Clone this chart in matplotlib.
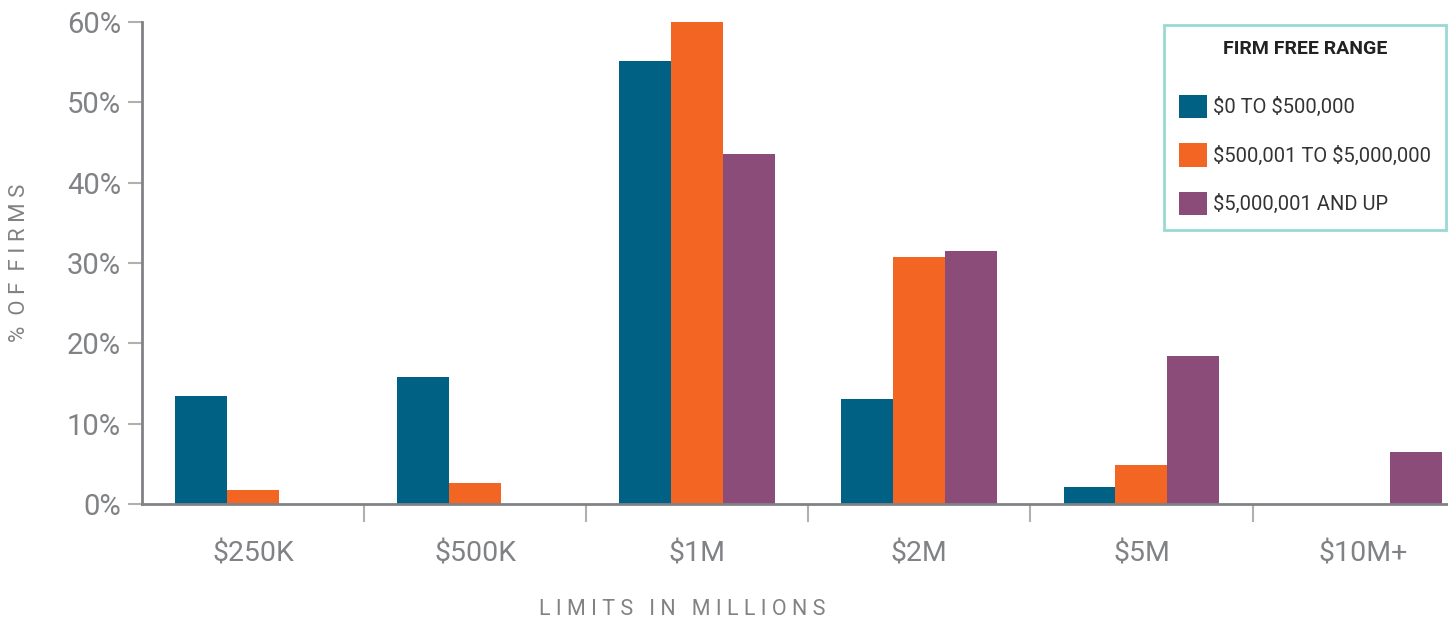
import numpy as np
import matplotlib.pyplot as plt

# limits of coverage and share of firms (%) per firm fee range
limits = ['$250K', '$500K', '$1M', '$2M', '$5M', '$10M+']
small_firms = [13.5, 15.8, 55.2, 13.1, 2.1, 0]
mid_firms = [1.8, 2.6, 60.0, 30.8, 4.9, 0]
large_firms = [0, 0, 43.6, 31.5, 18.4, 6.5]
series_labels = ['$0 TO $500,000', '$500,001 TO $5,000,000', '$5,000,001 AND UP']
y_ticks = [0, 10, 20, 30, 40, 50, 60]

colors = ['#006185', '#F26522', '#8B4C7A']
gray = '#808285'

plt.rcParams['font.family'] = ['Roboto', 'DejaVu Sans']
plt.rcParams['text.parse_math'] = False

fig = plt.figure(figsize=(14.48, 6.21), dpi=100)
ax = fig.add_axes([0.098, 0.1884, 0.902, 0.7762])

x = np.arange(len(limits))
w = 0.234
for i, (vals, c, lab) in enumerate(zip([small_firms, mid_firms, large_firms], colors, series_labels)):
    ax.bar(x + (i - 1) * w, vals, width=w, color=c, label=lab, linewidth=0)

ax.set_xlim(-0.5, 5.38)
ax.set_ylim(0, 60)

ax.set_yticks(y_ticks)
ax.set_yticklabels([f'{v}%' for v in y_ticks])
ax.set_xticks(x)
ax.set_xticklabels(limits)
ax.set_xticks(x[:-1] + 0.5, minor=True)

ax.tick_params(axis='y', length=10, width=1.5, color='#b0b0b0', labelsize=21, labelcolor=gray, pad=5)
ax.tick_params(axis='x', which='major', length=0, labelsize=20.5, labelcolor=gray, pad=26)
ax.tick_params(axis='x', which='minor', length=13, width=1.5, color='#b0b0b0')

for s in ['top', 'right']:
    ax.spines[s].set_visible(False)
for s in ['left', 'bottom']:
    ax.spines[s].set_color(gray)
    ax.spines[s].set_linewidth(2)

ax.set_ylabel('%  O F  F I R M S', fontsize=16, color=gray)
ax.yaxis.set_label_coords(-0.086, 0.5)
ax.set_xlabel('L I M I T S   I N   M I L L I O N S', fontsize=15.5, color=gray)
ax.xaxis.set_label_coords(0.4135, -0.197)

leg = ax.legend(loc='upper right', bbox_to_anchor=(0.9985, 0.994), title='FIRM FREE RANGE\n',
                fontsize=14.5, title_fontproperties={'weight': 'bold', 'size': 14},
                frameon=True, fancybox=False, handlelength=1.4, handleheight=1.4,
                handletextpad=0.3, labelspacing=1.25, borderpad=0.75, borderaxespad=0)
leg.get_frame().set_edgecolor('#7FCFCB')
leg.get_frame().set_linewidth(2)
leg.get_title().set_color('#222222')
leg.get_title().set_linespacing(0.55)
for t in leg.get_texts():
    t.set_color('#333333')

fig.savefig('out.png', dpi=100)
